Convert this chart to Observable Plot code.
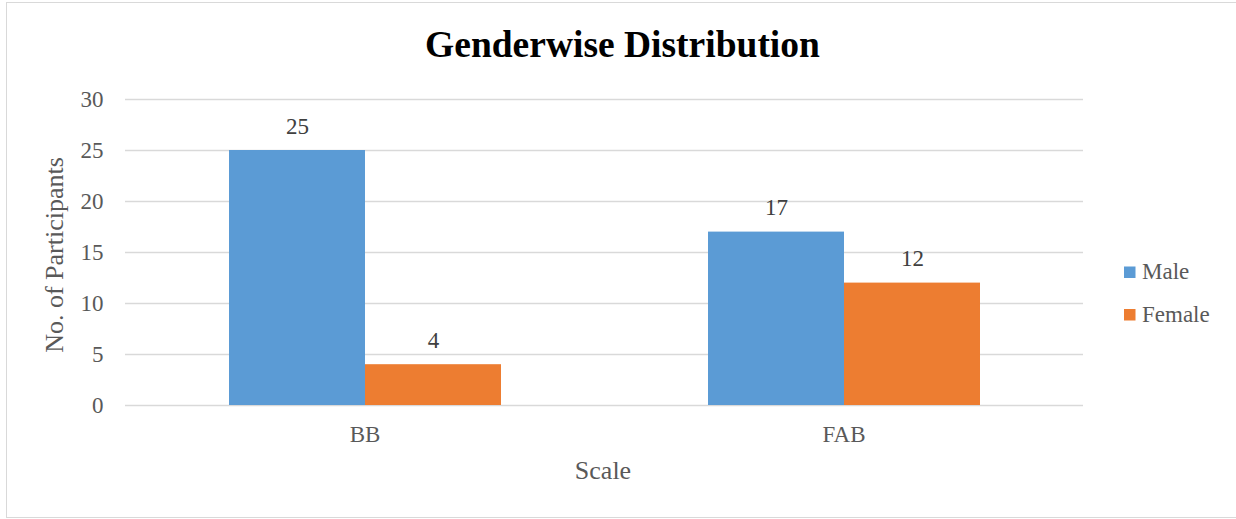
<!DOCTYPE html>
<html>
<head>
<meta charset="utf-8">
<script src="https://cdn.jsdelivr.net/npm/d3@7"></script>
<script src="https://cdn.jsdelivr.net/npm/@observablehq/plot@0.6"></script>
<style>
  html, body { margin: 0; padding: 0; background: #fff; }
  #wrap { position: relative; width: 1236px; height: 519px; overflow: hidden; background: #fff; }
  #frame { position: absolute; left: 6px; top: 2px; width: 1260px; height: 516px; border: 1.5px solid #d9d9d9; box-sizing: border-box; }
  #chart { position: absolute; left: 0; top: 0; }
  #overlay { position: absolute; left: 0; top: 0; pointer-events: none; }
  #chart svg text { font-family: 'Liberation Serif', 'Times New Roman', serif !important; font-variant: normal !important; }
</style>
</head>
<body>
<div id="wrap">
  <div id="frame"></div>
  <div id="chart"></div>
  <svg id="overlay" width="1236" height="519"></svg>
</div>
<script>
// ---- data ----
const title = "Genderwise Distribution";
const yLabel = "No. of Participants";
const xLabel = "Scale";
const categories = ["BB", "FAB"];
const genders = ["Male", "Female"];
const maleValues = [25, 17];
const femaleValues = [4, 12];
const yTicks = [0, 5, 10, 15, 20, 25, 30];
const colors = ["#5b9bd5", "#ed7d31"];

const data = categories.flatMap((c, i) => [
  {scale: c, gender: "Male", value: maleValues[i]},
  {scale: c, gender: "Female", value: femaleValues[i]}
]);

const font = "'Liberation Serif', 'Times New Roman', serif";

const chart = Plot.plot({
  width: 1236,
  height: 519,
  marginLeft: 125,
  marginRight: 153,
  marginTop: 99,
  marginBottom: 114,
  style: {fontFamily: font, background: "transparent", overflow: "visible"},
  fx: {domain: categories, padding: 0, label: null, axis: null},
  x: {domain: genders, paddingInner: 0, paddingOuter: 0.7546, axis: null, label: null},
  y: {domain: [0, 30], axis: null},
  color: {domain: genders, range: colors},
  marks: [
    Plot.ruleY(yTicks, {stroke: "#d9d9d9", strokeWidth: 1.3}),
    Plot.barY(data, {fx: "scale", x: "gender", y: "value", fill: "gender"}),
    Plot.text(data, {
      fx: "scale", x: "gender", y: "value",
      text: d => String(d.value),
      lineAnchor: "bottom", dy: -17,
      fill: "#404040", fontSize: 23, fontFamily: font
    }),
    Plot.axisY(yTicks, {
      tickSize: 0, tickPadding: 22, fontSize: 23, fontFamily: font,
      color: "#595959", label: null, tickFormat: d => String(d)
    }),
    Plot.axisFx({
      anchor: "bottom", tickSize: 0, tickPadding: 20,
      fontSize: 23, fontFamily: font, color: "#595959", label: null
    })
  ]
});
document.getElementById("chart").appendChild(chart);

// ---- titles and legend ----
const ov = d3.select("#overlay").style("font-family", font);
ov.append("text")
  .attr("x", 622.5).attr("y", 57)
  .attr("text-anchor", "middle")
  .attr("font-size", 37.5).attr("font-weight", "bold").attr("fill", "#000")
  .text(title);
ov.append("text")
  .attr("transform", "translate(63,255) rotate(-90)")
  .attr("text-anchor", "middle")
  .attr("font-size", 26).attr("fill", "#595959")
  .text(yLabel);
ov.append("text")
  .attr("x", 603).attr("y", 479)
  .attr("text-anchor", "middle")
  .attr("font-size", 26).attr("fill", "#595959")
  .text(xLabel);

const legendY = [279, 321.5];
genders.forEach((g, i) => {
  ov.append("rect")
    .attr("x", 1124).attr("y", legendY[i] - 12.5)
    .attr("width", 11.5).attr("height", 11.5)
    .attr("fill", colors[i]);
  ov.append("text")
    .attr("x", 1142).attr("y", legendY[i])
    .attr("font-size", 23).attr("fill", "#595959")
    .text(g);
});
</script>
</body>
</html>
